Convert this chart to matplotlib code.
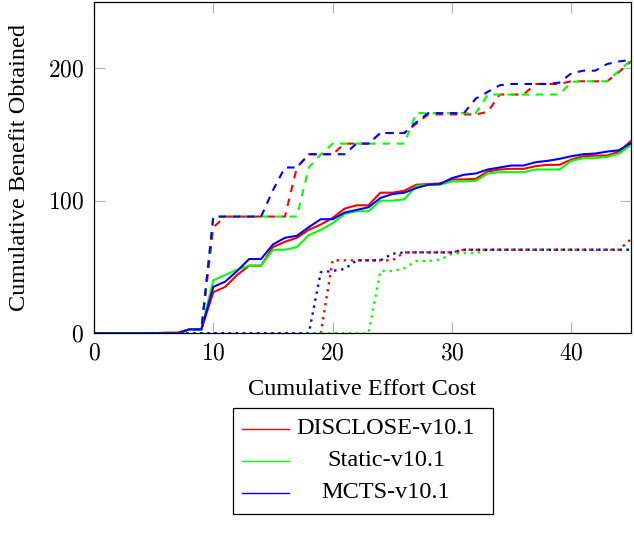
import matplotlib
matplotlib.use("Agg")
import matplotlib.pyplot as plt
from matplotlib.lines import Line2D
from matplotlib.patches import Rectangle
from matplotlib.ticker import FuncFormatter

plt.rcParams['font.family'] = ['Liberation Serif', 'DejaVu Serif']
plt.rcParams['mathtext.fontset'] = 'cm'

# cumulative effort cost, one sample per unit
effort = list(range(0, 46))

# solid lines: cumulative benefit
discloseSolid = [0, 0, 0, 0, 0, 0, 0.5, 0.5, 3, 3,
                 31, 35, 44, 51, 51, 65, 69, 72, 78, 82,
                 87, 94, 96.5, 96.5, 106, 106, 107.5, 112, 112.5, 113,
                 116, 116, 116.5, 122, 123.5, 124, 124, 126, 127, 127,
                 131, 133.5, 134, 134, 137, 145]
staticSolid = [0, 0, 0, 0, 0, 0, 0, 0, 3, 3,
               40, 44, 48, 51, 51, 63, 63, 65, 74, 78,
               83, 90, 92, 92, 100, 100, 101, 111, 112, 112,
               114.5, 114.5, 115, 120.5, 121.5, 121.5, 121.5, 123.5, 123.5, 123.5,
               130, 132, 132, 133, 135.5, 142]
mctsSolid = [0, 0, 0, 0, 0, 0, 0, 0, 3, 3,
             35, 39, 47, 56, 56, 67, 72, 73.5, 80, 86,
             86, 91, 93, 95, 102, 105, 106, 109.5, 112, 112.5,
             117, 119.5, 120.5, 123.5, 125, 126.5, 126.5, 129, 130, 131.5,
             133.5, 135, 135.5, 137, 138, 143.5]

# dashed lines
discloseDashed = [0, 0, 0, 0, 0, 0, 0, 0, 3, 3,
                  80, 88, 88, 88, 88, 88, 88, 125, 135, 135,
                  135, 143, 143, 143, 151, 151, 151, 158, 165, 165,
                  165, 165, 165, 167, 180, 180, 180, 188, 188, 188,
                  190, 190, 190, 190, 197, 205]
staticDashed = [0, 0, 0, 0, 0, 0, 0, 0, 3, 3,
                88, 88, 88, 88, 88, 88, 88, 88, 125, 135,
                143, 143, 143, 143, 143, 143, 143, 166, 166, 166,
                166, 166, 166, 180, 180, 180, 180, 180, 180, 180,
                189.5, 190, 190, 190, 198, 206]
mctsDashed = [0, 0, 0, 0, 0, 0, 0, 0, 3, 3,
              88, 88, 88, 88, 88, 108, 125, 125, 135, 135,
              135, 135, 143, 143, 151, 151, 151, 159, 166, 166,
              166, 166, 177, 182, 187, 188, 188, 188, 188, 189,
              196, 198, 198, 203, 205, 206]

# dotted lines
discloseDotted = [0] * 20 + [55, 55, 55, 55, 55, 55, 61, 61, 61, 61,
                             61, 63, 63, 63, 63, 63, 63, 63, 63, 63,
                             63, 63, 63, 63, 63, 71]
staticDotted = [0] * 24 + [47, 47, 49, 54.5, 54.5, 55.5,
                           60, 60.5, 60.5, 63, 63, 63, 63, 63, 63, 63,
                           63, 63, 63, 63, 63, 63]
mctsDotted = [0] * 19 + [46, 47, 48.5, 55, 55, 55, 60, 61, 61, 61,
                         61, 61, 63, 63, 63, 63, 63, 63, 63, 63,
                         63, 63, 63, 63, 63, 63, 63]

labels = ['DISCLOSE-v10.1', 'Static-v10.1', 'MCTS-v10.1']
colors = ['#ff0000', '#00ff00', '#0000ff']

fig = plt.figure(figsize=(6.34, 5.46), dpi=100)
ax = fig.add_axes([94 / 634, (546 - 333.3) / 546, 537 / 634, 331.6 / 546])

lw = 1.5
for series, color in zip([discloseSolid, staticSolid, mctsSolid], colors):
    ax.plot(effort, series, color=color, linewidth=lw, solid_joinstyle='miter')
for series, color in zip([discloseDashed, staticDashed, mctsDashed], colors):
    ax.plot(effort, series, color=color, linewidth=lw, dashes=(3.6, 3.2))
for series, color in zip([discloseDotted, staticDotted, mctsDotted], colors):
    ax.plot(effort, series, color=color, linewidth=lw + 0.2, dashes=(1, 2.0))

ax.set_xlim(0, 45)
ax.set_ylim(0, 250)
ax.set_xticks([0, 10, 20, 30, 40])
ax.set_yticks([0, 100, 200])
fmt = FuncFormatter(lambda v, pos: '$%d$' % v)
ax.xaxis.set_major_formatter(fmt)
ax.yaxis.set_major_formatter(fmt)
ax.tick_params(direction='in', length=8, width=0.8, color='#b4b4b4',
               top=True, right=True, labelsize=17, pad=7)
for spine in ax.spines.values():
    spine.set_linewidth(0.9)

ax.set_xlabel('Cumulative Effort Cost', fontsize=17.5, labelpad=11)
ax.set_ylabel('Cumulative Benefit Obtained', fontsize=17.5, labelpad=12.5)

# legend drawn by hand so the entries sit centred like pgfplots
W, H = 634.0, 546.0
fig.patches.append(Rectangle((233 / W, 1 - 514 / H), 260 / W, 106 / H,
                             transform=fig.transFigure, fill=False,
                             edgecolor='black', linewidth=0.9))
rowsY = [429, 461, 493]
for label, color, py in zip(labels, colors, rowsY):
    fig.lines.append(Line2D([242 / W, 289 / W], [1 - py / H, 1 - py / H],
                            transform=fig.transFigure, color=color, linewidth=1.0))
    fig.text(386 / W, 1 - py / H, label, ha='center', va='center', fontsize=17.5)

fig.savefig('out.png', dpi=100)
